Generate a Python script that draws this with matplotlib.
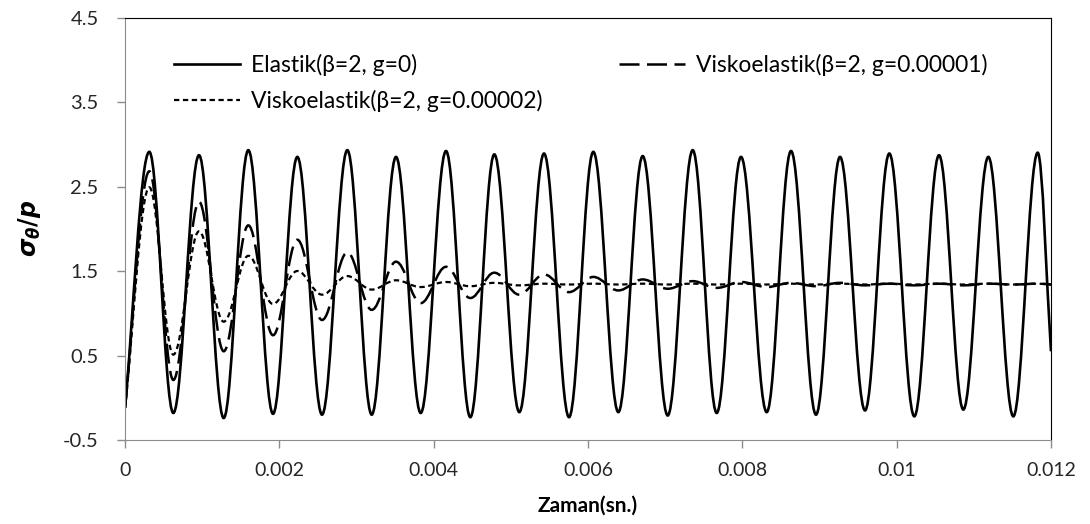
import matplotlib.pyplot as plt
from matplotlib.path import Path
from matplotlib.patches import PathPatch
from matplotlib.lines import Line2D
from matplotlib.ticker import FuncFormatter

plt.rcParams['font.family'] = ['Lato', 'DejaVu Sans']
plt.rcParams['mathtext.fontset'] = 'custom'
plt.rcParams['mathtext.it'] = 'DejaVu Sans:italic:bold'
plt.rcParams['mathtext.rm'] = 'DejaVu Sans:bold'

# times of the turning points (s): start, peak/trough pairs, end
zaman = [0.0,
         0.000315, 0.000626, 0.000959, 0.001279, 0.001598, 0.001918, 0.002233, 0.002553, 0.002881, 0.003197,
         0.003512, 0.003832, 0.004160, 0.004475, 0.004786, 0.005110, 0.005430, 0.005754, 0.006069, 0.006393,
         0.006709, 0.007033, 0.007357, 0.007668, 0.007983, 0.008316, 0.008631, 0.008955, 0.009266, 0.009590,
         0.009905, 0.010229, 0.010549, 0.010864, 0.011188, 0.011512, 0.011828,
         0.012]

elastik = [-0.12,
           2.91, -0.18, 2.87, -0.24, 2.93, -0.19, 2.85, -0.20, 2.93, -0.20,
           2.85, -0.18, 2.92, -0.23, 2.88, -0.17, 2.89, -0.23, 2.91, -0.17,
           2.86, -0.21, 2.93, -0.18, 2.85, -0.17, 2.92, -0.20, 2.85, -0.15,
           2.89, -0.22, 2.87, -0.14, 2.85, -0.22, 2.90,
           0.55]

visko_1 = [-0.12,
           2.68, 0.21, 2.32, 0.55, 2.04, 0.74, 1.87, 0.92, 1.72, 1.04,
           1.61, 1.12, 1.55, 1.18, 1.48, 1.22, 1.46, 1.25, 1.43, 1.27,
           1.40, 1.29, 1.38, 1.30, 1.37, 1.31, 1.36, 1.32, 1.36, 1.33,
           1.35, 1.33, 1.35, 1.33, 1.35, 1.34, 1.35,
           1.34]

visko_2 = [-0.12,
           2.49, 0.51, 1.97, 0.90, 1.68, 1.11, 1.50, 1.22, 1.44, 1.28,
           1.39, 1.31, 1.37, 1.32, 1.36, 1.33, 1.35, 1.34, 1.35, 1.34,
           1.35, 1.34, 1.35, 1.34, 1.35, 1.34, 1.35, 1.34, 1.35, 1.34,
           1.35, 1.34, 1.35, 1.34, 1.35, 1.34, 1.35,
           1.34]

etiketler = ['Elastik(β=2, g=0)', 'Viskoelastik(β=2, g=0.00001)', 'Viskoelastik(β=2, g=0.00002)']
x_ticks = [0, 0.002, 0.004, 0.006, 0.008, 0.01, 0.012]
y_ticks = [-0.5, 0.5, 1.5, 2.5, 3.5, 4.5]


def egri(t, y):
    # smooth bezier path through the turning points (flat tangent at extrema)
    verts = [(t[0], y[0])]
    codes = [Path.MOVETO]
    n = len(t)
    for i in range(n - 1):
        t0, y0, t1, y1 = t[i], y[i], t[i + 1], y[i + 1]
        dt = t1 - t0
        if i == 0:
            c1 = (t0 + dt / 3, y0 + (y1 - y0) / 3)
        else:
            c1 = (t0 + 0.364 * dt, y0)
        if i == n - 2:
            c2 = (t1 - dt / 3, y1 - (y1 - y0) / 3)
        else:
            c2 = (t1 - 0.364 * dt, y1)
        verts += [c1, c2, (t1, y1)]
        codes += [Path.CURVE4] * 3
    return Path(verts, codes)


stiller = [dict(linestyle='-', linewidth=1.9),
           dict(linestyle=(0, (8, 3)), linewidth=1.8),
           dict(linestyle=(0, (2.4, 1.6)), linewidth=1.6)]

fig = plt.figure(figsize=(10.9, 5.24), dpi=100)
ax = fig.add_axes([0.1147, 0.1603, 0.8495, 0.8063])

for seri, st in zip([elastik, visko_1, visko_2], stiller):
    ax.add_patch(PathPatch(egri(zaman, seri), facecolor='none', edgecolor='black', **st))

ax.set_xlim(0, 0.012)
ax.set_ylim(-0.5, 4.5)
ax.set_xticks(x_ticks)
ax.set_yticks(y_ticks)
ax.xaxis.set_major_formatter(FuncFormatter(lambda v, p: '%g' % round(v, 4)))
ax.yaxis.set_major_formatter(FuncFormatter(lambda v, p: '%.1f' % v))

for s in ['left', 'bottom']:
    ax.spines[s].set_color('#8c8c8c')
for s in ['top', 'right']:
    ax.spines[s].set_color('black')
ax.tick_params(direction='out', length=6, width=1, color='#8c8c8c',
               labelsize=14, labelcolor='#262626', pad=10)
ax.tick_params(axis='y', labelsize=14.5, pad=13)

ax.set_xlabel('Zaman(sn.)', fontsize=15, fontweight='bold', labelpad=12)
ax.set_ylabel(r'$\sigma_{\theta}/p$', fontsize=17, labelpad=14)

tutamak = [Line2D([], [], color='black', **st) for st in stiller]
ax.legend([tutamak[0], tutamak[2], tutamak[1]], [etiketler[0], etiketler[2], etiketler[1]],
          ncol=2, loc='upper left', bbox_to_anchor=(0.04, 0.94), frameon=False,
          fontsize=16.5, handlelength=2.9, handletextpad=0.5, columnspacing=3.3,
          labelspacing=0.6, borderpad=0)

plt.savefig('out.png', dpi=100)
